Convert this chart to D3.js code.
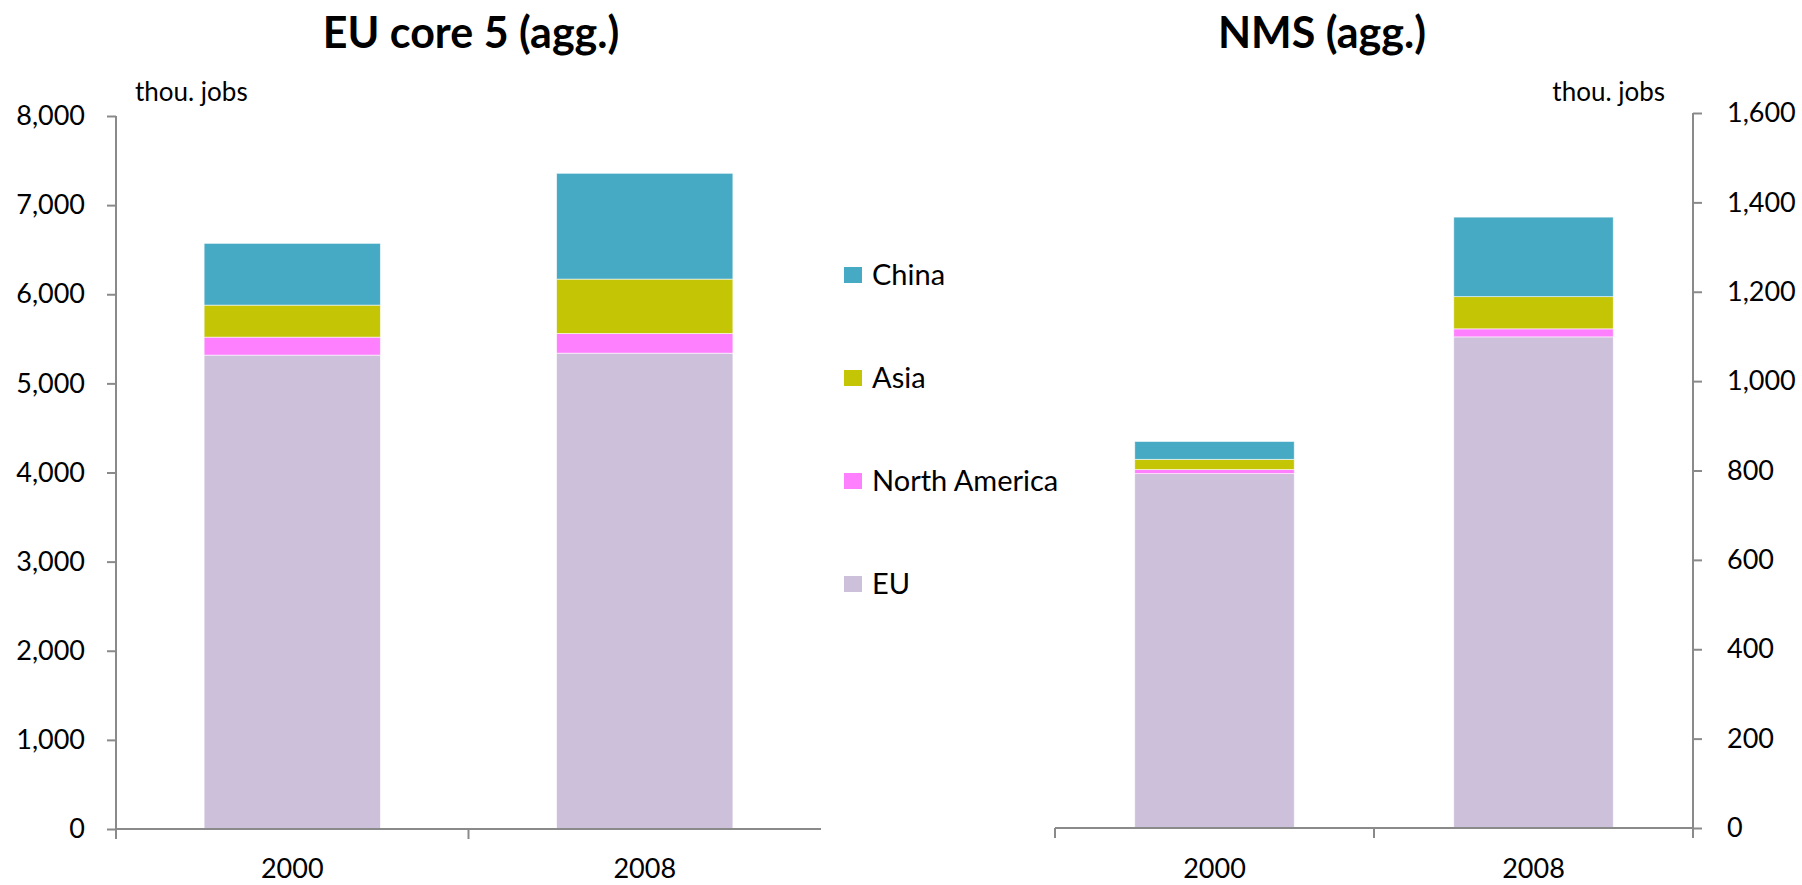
<!DOCTYPE html>
<html>
<head>
<meta charset="utf-8">
<script src="https://cdn.jsdelivr.net/npm/d3@7"></script>
<style>
  html, body { margin: 0; padding: 0; background: #fff; }
  svg { display: block; }
  text { font-family: Lato, "Open Sans", sans-serif; fill: #000; }
</style>
</head>
<body>
<svg id="chart" width="1802" height="885"></svg>
<script>
// ---- data ----
const years = ["2000", "2008"];
const seriesNames = ["EU", "North America", "Asia", "China"];
const seriesColors = ["#CCC0DA", "#FF80FF", "#C3C505", "#47AAC5"];
const legendOrder = ["China", "Asia", "North America", "EU"];

// EU core 5 (agg.), thou. jobs
const core5EU = [5317, 5339];
const core5NorthAmerica = [202, 221];
const core5Asia = [359, 610];
const core5China = [693, 1187];

// NMS (agg.), thou. jobs
const nmsEU = [793, 1099];
const nmsNorthAmerica = [9, 18];
const nmsAsia = [23, 72];
const nmsChina = [40, 178];

const core5Ticks = [0, 1000, 2000, 3000, 4000, 5000, 6000, 7000, 8000];
const nmsTicks = [0, 200, 400, 600, 800, 1000, 1200, 1400, 1600];

const titleLeft = "EU core 5 (agg.)";
const titleRight = "NMS (agg.)";
const unitLabel = "thou. jobs";

// ---- helpers ----
const svg = d3.select("#chart");
const axisColor = "#8A8A8A";
const color = d3.scaleOrdinal().domain(seriesNames).range(seriesColors);

function buildRows(eu, na, asia, china) {
  return years.map((y, i) => ({
    year: y,
    "EU": eu[i],
    "North America": na[i],
    "Asia": asia[i],
    "China": china[i]
  }));
}

function drawPanel(opts) {
  const rows = buildRows(...opts.values);
  const stack = d3.stack().keys(seriesNames)(rows);

  const x = d3.scaleBand().domain(years)
    .range([opts.x0, opts.x1]).paddingInner(opts.pad).paddingOuter(opts.pad / 2);
  const y = d3.scaleLinear().domain([0, d3.max(opts.ticks)])
    .range([opts.yBottom, opts.yTop]);

  const g = svg.append("g");

  // bars
  g.selectAll("g.series").data(stack).join("g")
    .attr("class", "series")
    .attr("fill", d => color(d.key))
    .selectAll("rect").data(d => d).join("rect")
    .attr("x", d => x(d.data.year))
    .attr("width", x.bandwidth())
    .attr("y", d => y(d[1]))
    .attr("height", d => y(d[0]) - y(d[1]))
    .attr("stroke", "rgba(255,255,255,0.7)")
    .attr("stroke-width", 0.8);

  // y axis
  const axis = (opts.side === "left" ? d3.axisLeft(y) : d3.axisRight(y))
    .tickValues(opts.ticks)
    .tickFormat(d3.format(","))
    .tickSize(9)
    .tickSizeOuter(0)
    .tickPadding(opts.side === "left" ? 22 : 25);
  const ax = g.append("g")
    .attr("transform", `translate(${opts.axisX},0)`)
    .call(axis);
  ax.select(".domain").remove();
  ax.selectAll(".tick line").attr("stroke", axisColor).attr("stroke-width", 2);
  ax.selectAll(".tick text")
    .style("font-family", "Lato, 'Open Sans', sans-serif")
    .style("font-size", "27px")
    .attr("fill", "#000");

  // y axis line (extends below the x axis like the category tick)
  g.append("line")
    .attr("x1", opts.axisX).attr("x2", opts.axisX)
    .attr("y1", opts.yTop).attr("y2", opts.yBottom + 10)
    .attr("stroke", axisColor).attr("stroke-width", 2);

  // x axis line
  g.append("line")
    .attr("x1", opts.x0).attr("x2", opts.x1)
    .attr("y1", opts.yBottom).attr("y2", opts.yBottom)
    .attr("stroke", axisColor).attr("stroke-width", 2);

  // category boundary ticks
  const step = x.step();
  const allBounds = [opts.x0, x(years[1]) - step * opts.pad / 2, opts.x1];
  const bounds = opts.side === "left" ? allBounds.slice(0, 2) : allBounds;
  g.selectAll("line.ctick").data(bounds).join("line")
    .attr("class", "ctick")
    .attr("x1", d => d).attr("x2", d => d)
    .attr("y1", opts.yBottom).attr("y2", opts.yBottom + 10)
    .attr("stroke", axisColor).attr("stroke-width", 2);

  // category labels
  g.selectAll("text.cat").data(years).join("text")
    .attr("class", "cat")
    .attr("x", d => x(d) + x.bandwidth() / 2)
    .attr("y", 878)
    .attr("text-anchor", "middle")
    .style("font-size", "27px")
    .text(d => d);

  // title
  g.append("text")
    .attr("x", opts.titleX).attr("y", 48)
    .attr("text-anchor", "middle")
    .style("font-size", "43px").style("font-weight", "700")
    .text(opts.title);

  // unit label
  g.append("text")
    .attr("x", opts.unitX).attr("y", 101)
    .attr("text-anchor", opts.unitAnchor)
    .style("font-size", "26px")
    .text(unitLabel);
}

drawPanel({
  values: [core5EU, core5NorthAmerica, core5Asia, core5China],
  ticks: core5Ticks,
  x0: 116, x1: 821, pad: 0.5,
  yTop: 116, yBottom: 829,
  axisX: 116, side: "left",
  title: titleLeft, titleX: 471,
  unitX: 135, unitAnchor: "start"
});

drawPanel({
  values: [nmsEU, nmsNorthAmerica, nmsAsia, nmsChina],
  ticks: nmsTicks,
  x0: 1055, x1: 1693, pad: 0.5,
  yTop: 113, yBottom: 828,
  axisX: 1693, side: "right",
  title: titleRight, titleX: 1322,
  unitX: 1665, unitAnchor: "end"
});

// legend
const legend = svg.append("g").attr("transform", "translate(844,275)");
const li = legend.selectAll("g").data(legendOrder).join("g")
  .attr("transform", (d, i) => `translate(0,${i * 103})`);
li.append("rect")
  .attr("x", 0).attr("y", -8).attr("width", 18).attr("height", 16)
  .attr("fill", d => color(d));
li.append("text")
  .attr("x", 28).attr("y", 10)
  .style("font-size", "29px")
  .text(d => d);
</script>
</body>
</html>
